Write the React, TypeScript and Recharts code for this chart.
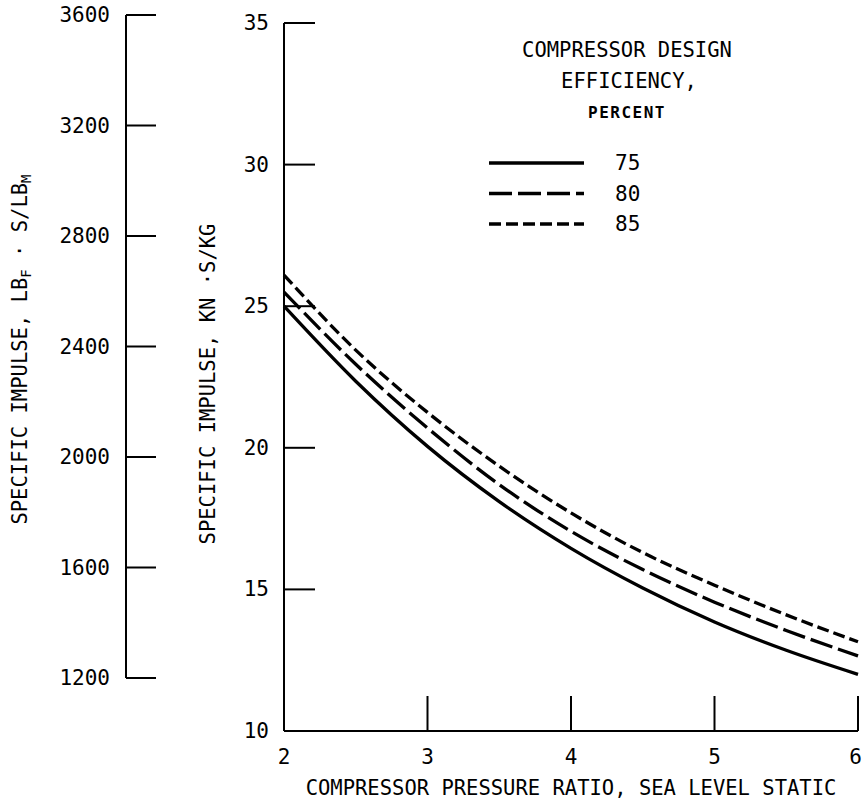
import { LineChart, Line, XAxis, YAxis, Legend } from 'recharts';

const pressureRatio = [2, 2.5, 3, 3.5, 4, 4.5, 5, 5.5, 6];
const eff75 = [25.0, 22.35, 20.05, 18.1, 16.45, 15.05, 13.85, 12.85, 12.0];
const eff80 = [25.5, 22.95, 20.7, 18.7, 17.05, 15.7, 14.55, 13.55, 12.65];
const eff85 = [26.1, 23.45, 21.25, 19.35, 17.7, 16.3, 15.15, 14.1, 13.15];

const xTicks = [2, 3, 4, 5, 6];
const knTicks = [10, 15, 20, 25, 30, 35];
const lbfTicks = [1200, 1600, 2000, 2400, 2800, 3200, 3600];

const FONT = '"DejaVu Sans Mono", monospace';

const chartData = pressureRatio.map((pr, i) => ({
  pr,
  e75: eff75[i],
  e80: eff80[i],
  e85: eff85[i],
}));

// line style per series (efficiency, percent)
const seriesStyle: Record<string, { name: string; dash?: string }> = {
  e75: { name: '75' },
  e80: { name: '80', dash: '23 6' },
  e85: { name: '85', dash: '12 5' },
};

function InwardYTick({ x, y, payload, len = 31, gap = 15 }: any) {
  return (
    <g>
      <line x1={x} y1={y} x2={x + len} y2={y} stroke="#000" strokeWidth={2} />
      <text
        x={x - gap}
        y={y}
        textAnchor="end"
        dominantBaseline="central"
        fontFamily={FONT}
        fontSize={21}
        fill="#000"
      >
        {payload.value}
      </text>
    </g>
  );
}

function InwardXTick({ x, y, payload, index, visibleTicksCount }: any) {
  const last = index === visibleTicksCount - 1;
  return (
    <g>
      <line x1={x} y1={y} x2={x} y2={y - 35} stroke="#000" strokeWidth={2} />
      <text
        x={last ? x + 4 : x}
        y={y + 33}
        textAnchor={last ? 'end' : 'middle'}
        fontFamily={FONT}
        fontSize={21}
        fill="#000"
      >
        {payload.value}
      </text>
    </g>
  );
}

function KnLabel({ viewBox }: any) {
  const x = viewBox.x + viewBox.width - 76;
  const y = viewBox.y + viewBox.height / 2 + 7;
  return (
    <text
      x={x}
      y={y}
      transform={`rotate(-90, ${x}, ${y})`}
      textAnchor="middle"
      dominantBaseline="central"
      fontFamily={FONT}
      fontSize={20.5}
      fill="#000"
    >
      SPECIFIC IMPULSE, KN ·S/KG
    </text>
  );
}

function LbfLabel({ viewBox }: any) {
  const x = viewBox.x + 20;
  const y = viewBox.y + viewBox.height / 2 + 3;
  return (
    <text
      x={x}
      y={y}
      transform={`rotate(-90, ${x}, ${y})`}
      textAnchor="middle"
      dominantBaseline="central"
      fontFamily={FONT}
      fontSize={20.5}
      fill="#000"
    >
      SPECIFIC IMPULSE, LB
      <tspan fontSize={14} dy={6}>F</tspan>
      <tspan dy={-6}> · S/LB</tspan>
      <tspan fontSize={14} dy={6}>M</tspan>
    </text>
  );
}

function EfficiencyLegend({ payload }: any) {
  const items = (payload || []).filter((p: any) => seriesStyle[p.dataKey]);
  return (
    <svg width={300} height={240} style={{ display: 'block' }}>
      <text x={150} y={57} textAnchor="middle" fontFamily={FONT} fontSize={20.5} fill="#000">
        COMPRESSOR DESIGN
      </text>
      <text x={152} y={88} textAnchor="middle" fontFamily={FONT} fontSize={20.5} fill="#000">
        EFFICIENCY,
      </text>
      <text
        x={150}
        y={118}
        textAnchor="middle"
        fontFamily={FONT}
        fontSize={16}
        fontWeight="bold"
        letterSpacing={1.5}
        fill="#000"
      >
        PERCENT
      </text>
      {items.map((p: any, i: number) => {
        const s = seriesStyle[p.dataKey];
        const cy = 163 + i * 30.5;
        return (
          <g key={p.dataKey}>
            <line x1={12} y1={cy} x2={107} y2={cy} stroke="#000" strokeWidth={3.6} strokeDasharray={s.dash} />
            <text x={138} y={cy} dominantBaseline="central" fontFamily={FONT} fontSize={21} fill="#000">
              {s.name}
            </text>
          </g>
        );
      })}
    </svg>
  );
}

export default function App() {
  return (
    <div style={{ position: 'absolute', left: 0, top: 0, width: 862, height: 805, background: '#fff' }}>
      <div style={{ position: 'absolute', left: 0, top: 0 }}>
        <LineChart width={862} height={805} data={chartData} margin={{ top: 23, right: 4, bottom: 0, left: 0 }}>
          <XAxis
            dataKey="pr"
            type="number"
            domain={[2, 6]}
            ticks={xTicks}
            interval={0}
            height={74}
            tickSize={0}
            tickMargin={0}
            tickLine={false}
            axisLine={{ stroke: '#000', strokeWidth: 2 }}
            tick={<InwardXTick />}
            label={{
              value: 'COMPRESSOR PRESSURE RATIO, SEA LEVEL STATIC',
              position: 'insideBottom',
              offset: 10,
              fontFamily: FONT,
              fontSize: 20.5,
              fill: '#000',
            }}
          />
          <YAxis
            type="number"
            domain={[10, 35]}
            ticks={knTicks}
            interval={0}
            width={284}
            tickSize={0}
            tickMargin={0}
            tickLine={false}
            axisLine={{ stroke: '#000', strokeWidth: 2 }}
            tick={<InwardYTick />}
            label={<KnLabel />}
          />
          <Legend
            layout="horizontal"
            verticalAlign="middle"
            align="center"
            content={<EfficiencyLegend />}
            wrapperStyle={{ position: 'absolute', left: 477, top: 0, width: 300, height: 240 }}
          />
          {Object.keys(seriesStyle).map((key) => (
            <Line
              key={key}
              dataKey={key}
              name={seriesStyle[key].name}
              type="monotone"
              stroke="#000"
              strokeWidth={3.3}
              strokeDasharray={seriesStyle[key].dash}
              dot={false}
              activeDot={false}
              isAnimationActive={false}
            />
          ))}
        </LineChart>
      </div>
      {/* secondary scale in english units */}
      <div style={{ position: 'absolute', left: 0, top: 0 }}>
        <LineChart
          width={170}
          height={700}
          data={lbfTicks.map((v) => ({ v }))}
          margin={{ top: 15, right: 0, bottom: 22, left: 0 }}
        >
          <XAxis dataKey="v" hide />
          <YAxis
            type="number"
            domain={[1200, 3600]}
            allowDataOverflow
            ticks={lbfTicks}
            interval={0}
            width={126}
            tickSize={0}
            tickMargin={0}
            tickLine={false}
            axisLine={{ stroke: '#000', strokeWidth: 2 }}
            tick={<InwardYTick len={30} gap={16} />}
            label={<LbfLabel />}
          />
        </LineChart>
      </div>
    </div>
  );
}
